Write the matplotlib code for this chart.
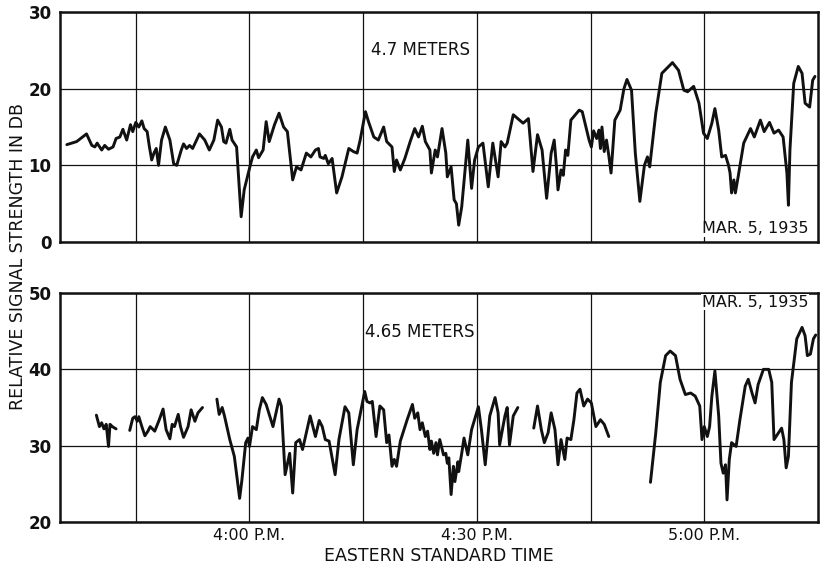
import matplotlib
matplotlib.use("Agg")
import matplotlib.pyplot as plt
import numpy as np

nan = float("nan")

# time is in minutes after 3:00 P.M.
t_47 = [35.9, 37.2, 38.5, 39.2, 39.6, 39.9, 40.5, 40.9, 41.4, 42.0, 42.4, 42.9, 43.3, 43.8,
        44.3, 44.6, 45.0, 45.4, 45.8, 46.1, 46.5, 46.8, 47.1, 47.4, 47.7, 48.0, 48.4, 48.9,
        49.5, 50.0, 50.4, 51.0, 51.3, 51.7, 52.1, 52.5, 53.4, 54.1, 54.7, 55.3, 55.8, 56.3,
        56.6, 56.9, 57.4, 57.7, 58.3, 58.9, 59.3, 60.0, 60.4, 60.9, 61.2, 61.8, 62.2, 62.6,
        63.3, 63.9, 64.5, 65.0, 65.7, 66.2, 66.8, 67.5, 68.1, 68.7, 69.1, 69.3, 69.8, 70.0,
        70.4, 70.9, 71.5, 72.2, 73.1, 73.7, 74.2, 74.6, 75.3, 75.7, 76.4, 77.0, 77.7, 78.1,
        78.8, 79.1, 79.4, 79.9, 80.5, 81.2, 81.8, 82.3, 82.8, 83.2, 83.8, 84.0, 84.5, 84.8,
        85.4, 85.9, 86.1, 86.6, 87.0, 87.3, 87.6, 88.0, 88.8, 89.3, 89.7, 90.2, 90.8, 91.5,
        92.1, 92.8, 93.2, 93.7, 94.0, 94.8, 95.4, 96.1, 96.8, 97.4, 98.0, 98.6, 99.2, 99.8,
        100.2, 100.5, 100.7, 101.1, 101.4, 101.7, 102.0, 102.4, 103.5, 103.9, 104.8, 105.1,
        105.4, 105.8, 106.1, 106.3, 106.5, 106.8, 107.1, 107.4, 107.7, 108.2, 108.9, 109.4,
        109.8, 110.4, 110.9, 111.5, 112.1, 112.5, 112.8, 113.6, 114.4, 115.8, 116.6, 117.3,
        117.8, 118.6, 119.3, 119.9, 120.4, 121.0, 121.4, 121.9, 122.3, 122.8, 123.2, 123.4,
        123.6, 123.9, 124.1, 124.5, 125.2, 126.1, 126.6, 127.4, 127.9, 128.6, 129.2, 129.8,
        130.4, 130.9, 131.1, 131.3, 131.8, 132.4, 132.9, 133.3, 133.9, 134.3, 134.6]
db_47 = [12.7, 13.1, 14.1, 12.6, 12.4, 12.9, 12.0, 12.6, 12.1, 12.4, 13.5, 13.7, 14.7, 13.3,
         15.3, 14.4, 15.6, 15.0, 15.8, 14.8, 14.4, 12.4, 10.7, 11.6, 12.2, 10.0, 13.3, 15.0,
         13.3, 10.2, 10.0, 12.0, 12.8, 12.2, 12.6, 12.2, 14.1, 13.3, 12.0, 13.3, 15.9, 15.0,
         13.1, 12.9, 14.7, 13.3, 12.4, 3.3, 6.8, 9.6, 11.1, 12.0, 11.0, 12.0, 15.7, 13.1,
         15.3, 16.8, 15.0, 14.4, 8.1, 9.8, 9.4, 11.6, 11.1, 12.0, 12.2, 11.1, 10.9, 11.3,
         10.2, 10.9, 6.4, 8.5, 12.2, 11.8, 11.6, 13.3, 17.0, 15.7, 13.7, 13.3, 15.0, 13.1,
         12.4, 9.2, 10.7, 9.4, 10.9, 13.1, 14.8, 13.7, 15.1, 13.1, 12.0, 9.0, 12.0, 11.1,
         14.8, 11.6, 8.5, 9.8, 5.5, 5.0, 2.2, 4.6, 13.3, 7.0, 10.7, 12.4, 12.9, 7.2,
         12.9, 8.5, 13.1, 12.4, 12.9, 16.6, 16.1, 15.5, 16.1, 9.2, 14.0, 12.0, 5.7, 11.6,
         13.3, 9.8, 6.8, 9.4, 8.7, 12.0, 11.3, 15.9, 17.2, 17.0, 13.3, 12.4,
         14.5, 13.5, 14.6, 12.2, 15.0, 11.8, 13.3, 11.3, 9.0, 15.9, 17.2, 20.0,
         21.2, 19.8, 11.6, 5.3, 10.0, 11.1, 9.8, 16.8, 22.0, 23.4, 22.4, 19.8,
         19.6, 20.3, 18.1, 14.2, 13.5, 15.5, 17.4, 14.6, 11.1, 11.3, 10.0, 9.0,
         6.4, 8.1, 6.4, 8.7, 12.9, 14.8, 13.7, 15.9, 14.4, 15.6, 14.2, 14.6,
         13.7, 9.0, 4.8, 12.0, 20.7, 22.9, 22.0, 18.1, 17.6, 21.1, 21.6]

# nan marks the breaks in the 4.65 m record
t_465 = [39.8, 40.2, 40.5, 40.8, 41.1, 41.4, 41.6, 41.9, 42.4, nan,
         44.2, 44.6, 44.9, 45.2, 45.4, 45.8, 46.2, 46.6, 46.9, 47.5, 48.1, 48.6, 49.0, 49.5,
         49.8, 50.1, 50.6, 50.9, 51.3, 51.9, 52.3, 52.8, 53.2, 53.8, nan,
         55.7, 56.0, 56.4, 56.7, 57.4, 58.0, 58.5, 58.7, 59.0, 59.5, 59.8, 60.0, 60.4, 60.9,
         61.3, 61.7, 62.2, 63.1, 63.9, 64.2, 64.7, 65.3, 65.7, 66.1, 66.6, 67.0, 67.5, 68.0,
         68.7, 69.2, 69.6, 70.0, 70.5, 71.3, 71.8, 72.6, 73.1, 73.7, 74.2, 75.2, 75.5, 75.9,
         76.2, 76.7, 77.2, 77.7, 78.1, 78.4, 78.8, 79.1, 79.4, 79.9, 80.8, 81.5, 81.8, 82.2,
         82.5, 82.8, 83.2, 83.5, 83.8, 84.0, 84.3, 84.6, 84.8, 85.1, 85.6, 85.9, 86.1, 86.3,
         86.6, 86.9, 87.1, 87.5, 87.6, 88.0, 88.3, 88.8, 89.3, 90.2, 90.6, 91.1, 91.7, 92.4,
         92.8, 93.0, 93.7, 94.0, 94.3, 94.8, 95.4, nan,
         97.5, 98.0, 98.5, 98.9, 99.4, 99.8, 100.3, 100.7, 101.1, 101.6, 101.9, 102.4, 102.8,
         103.2, 103.6, 104.1, 104.6, 105.1, 105.7, 106.3, 106.8, 107.4, nan,
         112.9, 113.6, 114.2, 114.9, 115.5, 116.2, 116.8, 117.5, 118.2, 118.8, 119.4, 119.7,
         120.0, 120.4, 120.7, 121.0, 121.4, 121.9, 122.2, 122.5, 122.8, 123.0, 123.3, 123.6,
         124.2, 124.7, 125.4, 125.8, 126.3, 126.7, 127.1, 127.8, 128.5, 128.9, 129.2, 129.8,
         130.2, 130.5, 130.8, 131.1, 131.5, 132.2, 132.9, 133.3, 133.6, 134.0, 134.4, 134.7]
db_465 = [34.0, 32.5, 33.0, 32.2, 32.8, 29.9, 32.8, 32.5, 32.2, nan,
          32.0, 33.6, 33.8, 33.2, 33.8, 32.5, 31.3, 31.9, 32.5, 31.9, 33.4, 34.8, 32.1, 30.9,
          32.8, 32.5, 34.1, 32.5, 31.1, 32.5, 34.7, 33.2, 34.3, 35.0, nan,
          36.1, 34.1, 35.0, 33.9, 30.8, 28.6, 24.6, 23.1, 25.5, 30.4, 31.0, 29.9, 32.5, 32.1,
          34.7, 36.3, 35.4, 32.5, 36.1, 35.2, 26.2, 29.0, 23.8, 30.4, 30.8, 29.5, 31.7, 33.9,
          31.2, 33.3, 32.5, 30.8, 30.6, 26.2, 30.8, 35.1, 34.3, 27.5, 32.1, 37.1, 35.8, 35.6,
          35.8, 31.2, 35.2, 34.7, 30.4, 31.4, 27.3, 28.2, 27.3, 30.6, 33.4, 35.4, 33.6, 34.3,
          32.1, 33.0, 31.2, 31.9, 29.5, 30.6, 29.0, 30.4, 28.8, 30.8, 28.8, 29.0, 27.7, 28.4,
          23.6, 27.3, 25.3, 27.9, 26.6, 29.0, 31.0, 28.8, 32.1, 35.1, 32.1, 27.5, 33.9, 36.3,
          34.3, 30.1, 33.9, 35.0, 30.1, 33.9, 35.0, nan,
          32.3, 35.2, 32.1, 30.4, 31.7, 34.3, 32.1, 27.5, 30.8, 28.2, 31.0, 30.8, 33.4,
          36.9, 37.4, 35.2, 36.1, 35.6, 32.5, 33.4, 32.8, 31.2, nan,
          25.2, 31.7, 38.3, 41.8, 42.4, 41.8, 38.7, 36.7, 36.9, 36.5, 35.2, 30.8,
          32.5, 31.2, 32.5, 36.5, 39.8, 33.9, 27.7, 26.4, 27.5, 22.9, 28.2, 30.4,
          29.9, 33.4, 37.8, 38.7, 36.9, 35.6, 38.0, 40.0, 40.0, 38.3, 30.8, 31.7,
          32.3, 30.8, 27.1, 28.6, 38.3, 44.0, 45.5, 44.4, 41.8, 42.0, 44.0, 44.5]

grid_times = [45, 60, 75, 90, 105, 120]
time_labels = ["", "4:00 P.M.", "", "4:30 P.M.", "", "5:00 P.M."]
yticks_top = [0, 10, 20, 30]
yticks_bot = [20, 30, 40, 50]

plt.rcParams["font.family"] = "DejaVu Sans"
fig = plt.figure(figsize=(8.24, 5.66), dpi=100)
ax1 = fig.add_axes([0.0728, 0.5724, 0.9199, 0.4064])
ax2 = fig.add_axes([0.0728, 0.0777, 0.9199, 0.4046])

ink = "#111111"
for ax, t, db, yt in [(ax1, t_47, db_47, yticks_top), (ax2, t_465, db_465, yticks_bot)]:
    ax.plot(t, db, color=ink, lw=2.1, solid_joinstyle="round", solid_capstyle="round")
    ax.set_xlim(35, 135)
    ax.set_ylim(yt[0], yt[-1])
    ax.set_yticks(yt)
    ax.set_xticks(grid_times)
    ax.grid(True, color=ink, lw=0.9)
    ax.tick_params(length=0, pad=6, labelsize=12, colors=ink)
    for lbl in ax.get_yticklabels():
        lbl.set_fontweight("bold")
    for sp in ax.spines.values():
        sp.set_linewidth(1.8)
        sp.set_color(ink)

ax1.set_xticklabels([])
ax2.set_xticklabels(time_labels, fontsize=11.5)
ax2.tick_params(axis="x", pad=4)
ax2.set_xlabel("EASTERN STANDARD TIME", fontsize=12.5, color=ink, labelpad=3)

ax1.text(0.475, 0.835, "4.7 METERS", transform=ax1.transAxes, ha="center", va="center",
         fontsize=12, color=ink, bbox=dict(fc="white", ec="none", pad=0.5))
ax1.text(0.987, 0.057, "MAR. 5, 1935", transform=ax1.transAxes, ha="right", va="center",
         fontsize=11.5, color=ink, bbox=dict(fc="white", ec="none", pad=0.5))
ax2.text(0.475, 0.831, "4.65 METERS", transform=ax2.transAxes, ha="center", va="center",
         fontsize=12, color=ink, bbox=dict(fc="white", ec="none", pad=0.5))
ax2.text(0.987, 0.96, "MAR. 5, 1935", transform=ax2.transAxes, ha="right", va="center",
         fontsize=11.5, color=ink, bbox=dict(fc="white", ec="none", pad=0.5))

fig.text(0.022, 1 - 256 / 566, "RELATIVE SIGNAL STRENGTH IN DB", rotation=90,
         ha="center", va="center", fontsize=12.5, color=ink)

fig.savefig("out.png", dpi=100, facecolor="white")
